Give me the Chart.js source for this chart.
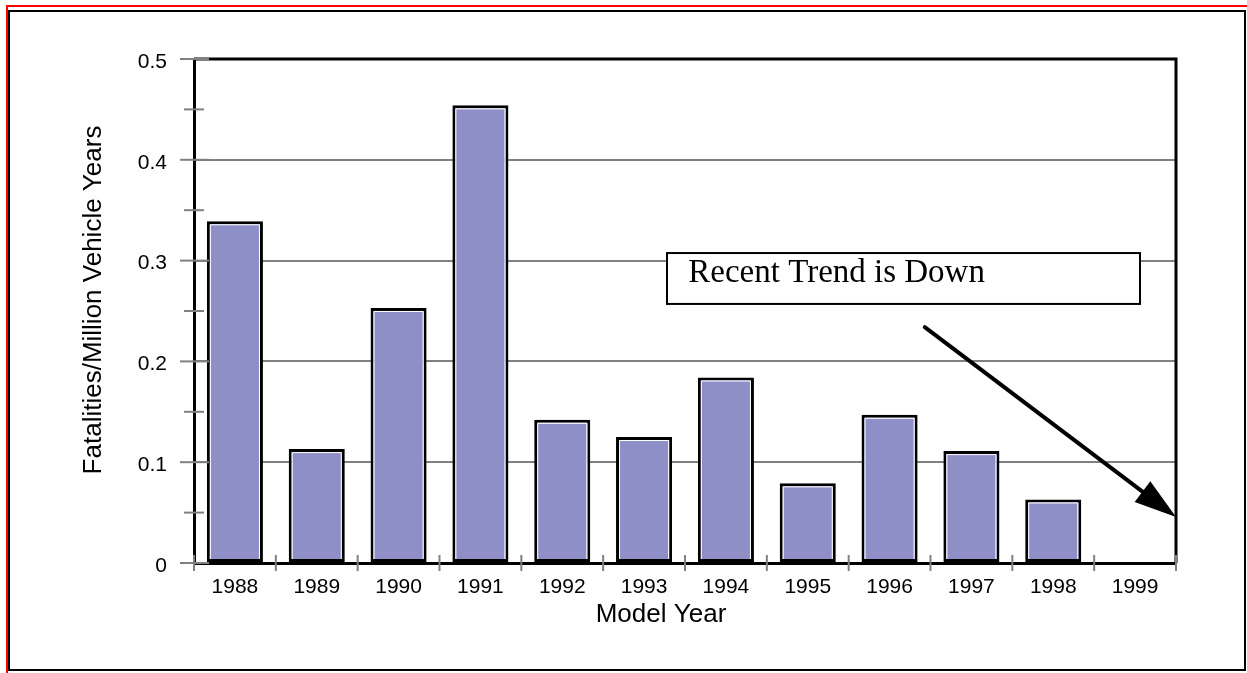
<!DOCTYPE html>
<html>
<head>
<meta charset="utf-8">
<script src="https://cdn.jsdelivr.net/npm/chart.js@4.4.1/dist/chart.umd.min.js"></script>
<style>
  html, body { margin: 0; padding: 0; background: #fff; }
  canvas { display: block; }
</style>
</head>
<body>
<canvas id="chart" width="1247" height="673"></canvas>
<script>
// values
const modelYears = ["1988", "1989", "1990", "1991", "1992", "1993", "1994", "1995", "1996", "1997", "1998", "1999"];
const fatalityRates = [0.339, 0.113, 0.253, 0.454, 0.142, 0.125, 0.184, 0.079, 0.147, 0.111, 0.063, null];
const yMin = 0;
const yMax = 0.5;
const yStep = 0.1;
const xTitle = "Model Year";
const yTitle = "Fatalities/Million Vehicle Years";
const noteText = "Recent Trend is Down";

const sansFont = '"Liberation Sans", Arial, sans-serif';
Chart.defaults.font.family = sansFont;
Chart.defaults.color = "#000";

// white inner line just inside each bar's black border
const barBevel = {
  id: "barBevel",
  afterDatasetsDraw(chart) {
    const ctx = chart.ctx;
    const meta = chart.getDatasetMeta(0);
    ctx.save();
    ctx.strokeStyle = "#fff";
    ctx.lineWidth = 1;
    meta.data.forEach((bar, i) => {
      if (fatalityRates[i] == null) return;
      const { x, y, base, width } = bar.getProps(["x", "y", "base", "width"], true);
      const l = x - width / 2 + 3.5;
      const r = x + width / 2 - 3.5;
      const t = y + 3.5;
      ctx.beginPath();
      ctx.moveTo(l, base - 3);
      ctx.lineTo(l, t);
      ctx.lineTo(r, t);
      ctx.lineTo(r, base - 3);
      ctx.stroke();
    });
    ctx.restore();
  }
};

const decorations = {
  id: "decorations",
  afterDraw(chart) {
    const ctx = chart.ctx;
    const { left, right, top, bottom } = chart.chartArea;
    const xs = chart.scales.x;
    const ys = chart.scales.y;
    ctx.save();

    // top and right box lines
    ctx.strokeStyle = "#000";
    ctx.lineWidth = 3;
    ctx.beginPath();
    ctx.moveTo(left, top);
    ctx.lineTo(right, top);
    ctx.lineTo(right, bottom);
    ctx.stroke();

    // grey tick marks crossing the axes
    ctx.strokeStyle = "#808080";
    ctx.lineWidth = 2;
    for (let i = 0; i <= modelYears.length; i++) {
      const px = xs.getPixelForValue(i - 0.5);
      ctx.beginPath();
      ctx.moveTo(px, bottom - 8);
      ctx.lineTo(px, bottom + 8);
      ctx.stroke();
    }
    for (let v = yMin; v <= yMax + 1e-9; v += yStep / 2) {
      const py = ys.getPixelForValue(v);
      const major = Math.abs(v / yStep - Math.round(v / yStep)) < 1e-6;
      ctx.beginPath();
      ctx.moveTo(left - (major ? 14 : 10), py);
      ctx.lineTo(left + (major ? 15 : 10), py);
      ctx.stroke();
    }

    // axis titles
    ctx.fillStyle = "#000";
    ctx.textBaseline = "alphabetic";
    ctx.textAlign = "center";
    ctx.font = "26px " + sansFont;
    ctx.fillText(xTitle, left + 467, bottom + 59);
    ctx.save();
    ctx.translate(left - 93, top + 241);
    ctx.rotate(-Math.PI / 2);
    ctx.fillText(yTitle, 0, 0);
    ctx.restore();

    // note box
    const bx0 = xs.getPixelForValue(5.28);
    const bx1 = xs.getPixelForValue(11.06);
    const by0 = ys.getPixelForValue(0.3075);
    const by1 = ys.getPixelForValue(0.257);
    ctx.fillStyle = "#fff";
    ctx.fillRect(bx0, by0, bx1 - bx0, by1 - by0);
    ctx.strokeStyle = "#000";
    ctx.lineWidth = 2;
    ctx.strokeRect(bx0, by0, bx1 - bx0, by1 - by0);
    ctx.fillStyle = "#000";
    ctx.textAlign = "left";
    ctx.font = '33px "Liberation Serif", "Times New Roman", serif';
    ctx.fillText(noteText, xs.getPixelForValue(5.54), ys.getPixelForValue(0.279));

    // trend arrow
    const ax0 = xs.getPixelForValue(8.43);
    const ay0 = ys.getPixelForValue(0.234);
    const ax1 = xs.getPixelForValue(11.5);
    const ay1 = ys.getPixelForValue(0.0456);
    const ang = Math.atan2(ay1 - ay0, ax1 - ax0);
    const headLen = 42;
    const headHalf = 13;
    const hx = ax1 - headLen * Math.cos(ang);
    const hy = ay1 - headLen * Math.sin(ang);
    ctx.lineWidth = 4;
    ctx.lineCap = "round";
    ctx.beginPath();
    ctx.moveTo(ax0, ay0);
    ctx.lineTo(hx, hy);
    ctx.stroke();
    ctx.beginPath();
    ctx.moveTo(ax1, ay1);
    ctx.lineTo(hx + headHalf * Math.sin(ang), hy - headHalf * Math.cos(ang));
    ctx.lineTo(hx - headHalf * Math.sin(ang), hy + headHalf * Math.cos(ang));
    ctx.closePath();
    ctx.fill();

    // outer frame
    ctx.lineCap = "butt";
    ctx.strokeStyle = "#f00";
    ctx.lineWidth = 2;
    ctx.beginPath();
    ctx.moveTo(7, 673);
    ctx.lineTo(7, 6);
    ctx.lineTo(1247, 6);
    ctx.stroke();
    ctx.strokeStyle = "#000";
    ctx.lineWidth = 2;
    ctx.strokeRect(9, 11, 1236, 659);

    ctx.restore();
  }
};

new Chart(document.getElementById("chart"), {
  type: "bar",
  data: {
    labels: modelYears,
    datasets: [{
      data: fatalityRates,
      backgroundColor: "#8f8fc7",
      borderColor: "#000",
      borderWidth: 3,
      borderSkipped: false,
      categoryPercentage: 1,
      barPercentage: 0.685
    }]
  },
  options: {
    responsive: false,
    animation: false,
    devicePixelRatio: 1,
    layout: { padding: { left: 0, top: 59, right: 71, bottom: 0 } },
    plugins: {
      legend: { display: false },
      tooltip: { enabled: false }
    },
    scales: {
      x: {
        offset: true,
        grid: { display: false, drawTicks: false },
        border: { color: "#000", width: 3 },
        ticks: { font: { size: 21 }, padding: 12, maxRotation: 0 },
        afterFit: (s) => { s.height = 110; }
      },
      y: {
        min: yMin,
        max: yMax,
        ticks: { stepSize: yStep, padding: 27, labelOffset: 3, font: { size: 21 } },
        grid: { color: "#808080", lineWidth: 2, drawTicks: false },
        border: { color: "#000", width: 3 },
        afterFit: (s) => { s.width = 194; }
      }
    }
  },
  plugins: [barBevel, decorations]
});
</script>
</body>
</html>
